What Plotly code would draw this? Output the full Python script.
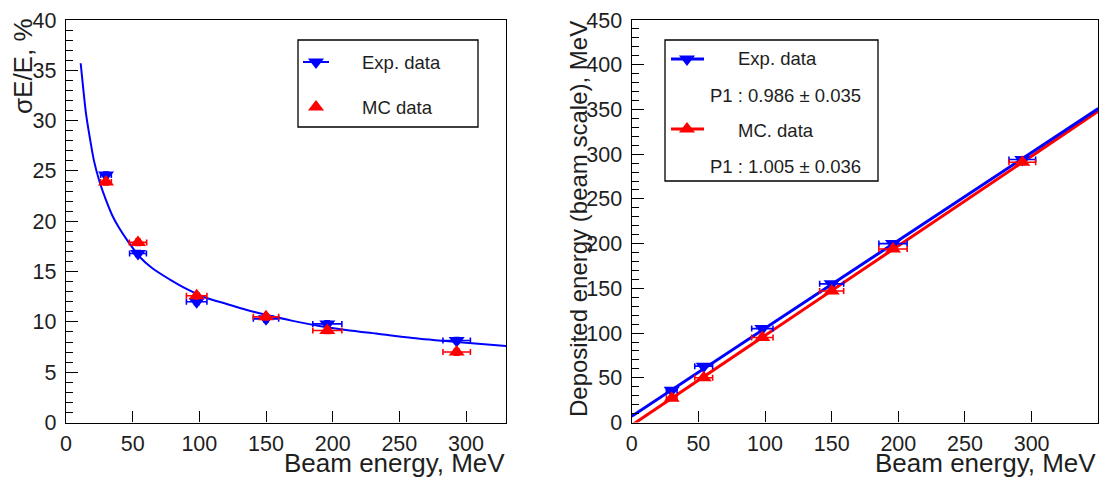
import plotly.graph_objects as go

# ---------------- data ----------------
beam_energy = [30, 54, 98, 150, 196, 293]

# left panel: relative resolution, %
res_exp = [24.6, 16.8, 12.0, 10.3, 9.8, 8.15]
res_mc = [23.9, 17.9, 12.6, 10.5, 9.15, 7.0]
res_exp_xerr = [4, 6.3, 7.7, 9.5, 10.9, 10.3]
res_mc_xerr = [4, 6.5, 7.7, 9.5, 10.9, 10.3]
res_yerr = [0.3, 0.3, 0.3, 0.3, 0.3, 0.3]

# left panel fit curve
fit_x = [11, 13, 15, 18, 21, 25, 30, 35, 40, 47, 55, 65, 78, 90, 105, 120,
         135, 150, 170, 190, 210, 235, 260, 293, 330]
fit_y = [35.7, 33.1, 30.7, 28.2, 26.0, 24.0, 22.1, 20.5, 19.3, 17.9, 16.5,
         15.3, 14.2, 13.3, 12.4, 11.8, 11.2, 10.7, 10.1, 9.6, 9.2, 8.8, 8.4,
         8.0, 7.6]

# right panel: deposited energy, MeV
dep_exp = [36, 63, 105, 155, 200, 294]
dep_mc = [27, 50, 95, 147, 194, 291]
dep_xerr = [4, 6.7, 8, 9, 10.6, 10]
dep_yerr = [2, 2, 2, 2, 2, 2]

# right panel linear fits (end points)
line_x = [0, 350]
line_exp = [7, 351]
line_mc = [-3, 348]

legend_left = ["Exp. data", "MC data"]
legend_right = ["Exp. data", "P1 : 0.986 \u00b1 0.035", "MC. data", "P1 : 1.005 \u00b1 0.036"]

# ---------------- styling ----------------
OFF = 8                      # page body margin
W, H = 1115 - OFF, 477 - OFF
FONT = "Liberation Sans, Arial, sans-serif"
TXT = "#1e1e1e"
BLUE = "#0000ff"
RED = "#ff0000"

def px(x):
    return (x - OFF) / W

def py(y):
    return 1 - (y - OFF) / H

y_dom = [py(422.5), py(20)]
left_dom = [px(66), px(506)]
right_dom = [px(631.7), px(1098.3)]

fig = go.Figure()

def err(arr, color):
    return dict(type="data", array=arr, color=color, thickness=1.6, width=3)

MS = 14

# left panel
fig.add_trace(go.Scatter(x=fit_x, y=fit_y, mode="lines", line=dict(color=BLUE, width=2, shape="spline", smoothing=0.8),
                         xaxis="x", yaxis="y", showlegend=False, hoverinfo="skip"))
fig.add_trace(go.Scatter(x=beam_energy, y=res_exp, mode="markers",
                         marker=dict(symbol="triangle-down", size=MS, color=BLUE),
                         error_x=err(res_exp_xerr, BLUE), error_y=err(res_yerr, BLUE),
                         xaxis="x", yaxis="y", showlegend=False))
fig.add_trace(go.Scatter(x=beam_energy, y=res_mc, mode="markers",
                         marker=dict(symbol="triangle-up", size=MS, color=RED),
                         error_x=err(res_mc_xerr, RED), error_y=err(res_yerr, RED),
                         xaxis="x", yaxis="y", showlegend=False))

# right panel
fig.add_trace(go.Scatter(x=line_x, y=line_mc, mode="lines", line=dict(color=RED, width=3),
                         xaxis="x2", yaxis="y2", showlegend=False, hoverinfo="skip"))
fig.add_trace(go.Scatter(x=line_x, y=line_exp, mode="lines", line=dict(color=BLUE, width=3),
                         xaxis="x2", yaxis="y2", showlegend=False, hoverinfo="skip"))
fig.add_trace(go.Scatter(x=beam_energy, y=dep_exp, mode="markers",
                         marker=dict(symbol="triangle-down", size=MS, color=BLUE),
                         error_x=err(dep_xerr, BLUE), error_y=err(dep_yerr, BLUE),
                         xaxis="x2", yaxis="y2", showlegend=False))
fig.add_trace(go.Scatter(x=beam_energy, y=dep_mc, mode="markers",
                         marker=dict(symbol="triangle-up", size=MS, color=RED),
                         error_x=err(dep_xerr, RED), error_y=err(dep_yerr, RED),
                         xaxis="x2", yaxis="y2", showlegend=False))

# legend glyphs on a pixel-coordinate overlay axis
def glyph(xs, ys, mode, symbol, color, lw=2):
    fig.add_trace(go.Scatter(x=xs, y=ys, mode=mode, line=dict(color=color, width=lw),
                             marker=dict(symbol=symbol, size=MS, color=color),
                             xaxis="x3", yaxis="y3", showlegend=False, hoverinfo="skip"))

glyph([303, 329], [62, 62], "lines", "circle", BLUE)
glyph([316], [62], "markers", "triangle-down", BLUE)
glyph([316], [107], "markers", "triangle-up", RED)
glyph([671, 704], [59, 59], "lines", "circle", BLUE, 3)
glyph([687], [59], "markers", "triangle-down", BLUE)
glyph([671, 704], [129, 129], "lines", "circle", RED, 3)
glyph([687], [129], "markers", "triangle-up", RED)

tickfont = dict(family=FONT, size=21.5, color=TXT)

def xax(dom, rng, anchor):
    return dict(domain=dom, range=rng, anchor=anchor, dtick=50, tick0=0,
                ticks="inside", ticklen=11, tickwidth=1.2, tickcolor="black",
                showline=True, linecolor="black", linewidth=1.4, mirror=True,
                showgrid=False, zeroline=False, tickfont=tickfont, ticklabelstandoff=1,
                automargin=False)

def yax(rng, anchor, dtick, mdtick):
    return dict(domain=y_dom, range=rng, anchor=anchor, dtick=dtick, tick0=0,
                ticks="inside", ticklen=12, tickwidth=1.2, tickcolor="black",
                minor=dict(dtick=mdtick, ticks="inside", ticklen=7, tickwidth=1.2, tickcolor="black"),
                showline=True, linecolor="black", linewidth=1.4, mirror=True,
                showgrid=False, zeroline=False, tickfont=tickfont, ticklabelstandoff=4,
                automargin=False)

annotations = []

def ann(text, x, y, xanchor="left", yanchor="middle", size=18.5, angle=0):
    annotations.append(dict(text=text, x=px(x), y=py(y), xref="paper", yref="paper",
                            xanchor=xanchor, yanchor=yanchor, showarrow=False, textangle=angle,
                            font=dict(family=FONT, size=size, color=TXT)))

# axis titles
ann("\u03c3E/E, %", 23, 16, "center", "top", 26, -90)
ann("Beam energy, MeV", 507, 463, "right", "middle", 26)
ann("Deposited energy (beam scale), MeV", 578, 19, "center", "top", 24, -90)
ann("Beam energy, MeV", 1098, 463, "right", "middle", 26)

# legend texts
ann(legend_left[0], 360, 62)
ann(legend_left[1], 360, 107)
ann(legend_right[0], 736, 59)
ann(legend_right[1], 708, 95)
ann(legend_right[2], 736, 130)
ann(legend_right[3], 708, 166)

shapes = [
    dict(type="rect", xref="paper", yref="paper", x0=px(298), x1=px(478), y0=py(127), y1=py(40),
         line=dict(color="black", width=1.3), fillcolor="rgba(0,0,0,0)"),
    dict(type="rect", xref="paper", yref="paper", x0=px(665), x1=px(878), y0=py(181), y1=py(40),
         line=dict(color="black", width=1.3), fillcolor="rgba(0,0,0,0)"),
]

fig.update_layout(
    width=W, height=H,
    margin=dict(l=0, r=0, t=0, b=0, autoexpand=False),
    paper_bgcolor="white", plot_bgcolor="rgba(0,0,0,0)",
    xaxis=xax(left_dom, [0, 330], "y"),
    yaxis=yax([0, 40], "x", 5, 1),
    xaxis2=xax(right_dom, [0, 350], "y2"),
    yaxis2=yax([0, 450], "x2", 50, 10),
    xaxis3=dict(domain=[0, 1], range=[OFF, OFF + W], anchor="y3", visible=False, fixedrange=True, automargin=False),
    yaxis3=dict(domain=[0, 1], range=[OFF + H, OFF], anchor="x3", visible=False, fixedrange=True, automargin=False),
    annotations=annotations,
    shapes=shapes,
    showlegend=False,
)

fig.write_html("out.html")
